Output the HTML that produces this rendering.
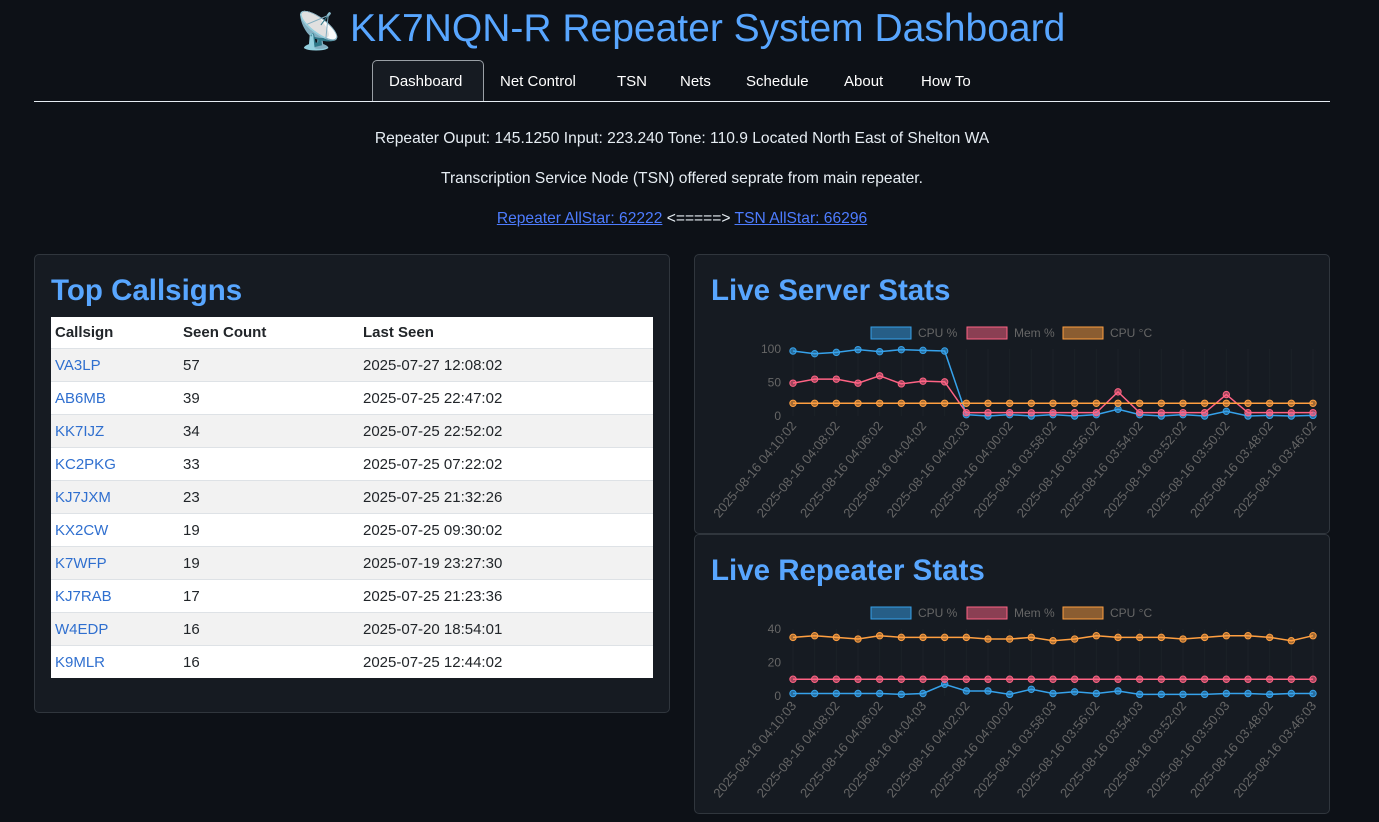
<!DOCTYPE html>
<html><head><meta charset="utf-8"><style>
body{margin:0;background:#0d1117;color:#e6edf3;font-family:"Liberation Sans",sans-serif;width:1379px;height:822px;overflow:hidden;position:relative}
.abs{position:absolute}
h1{position:absolute;left:350px;top:7px;margin:0;font-size:39px;font-weight:normal;color:#58a6ff;white-space:nowrap}
.nav a{position:absolute;top:73px;font-size:15px;color:#fff;text-decoration:none}
.card{position:absolute;background:#161b22;border:1px solid #30363d;border-radius:5px}
.card h2{margin:0;position:absolute;left:16px;top:19px;font-size:29.5px;color:#58a6ff;font-weight:bold}
table{position:absolute;left:16px;top:62px;width:602px;border-collapse:collapse;background:#fff;color:#212529;font-size:15px}
td,th{height:32px;padding:0 4px;text-align:left;border-top:1px solid #dee2e6}
th{border-top:none;height:31px}
tr:nth-child(even) td{background:#f2f2f2}
td a{color:#2f6fcf;text-decoration:none}
.c{font-size:15.6px;color:#e6edf3;text-align:center;position:absolute;left:0;width:1364px}
.c a{color:#4d7cff;text-decoration:underline}
</style></head><body>
<div class="abs" style="left:296px;top:10px;font-size:36px">📡</div>
<h1>KK7NQN-R Repeater System Dashboard</h1>
<div class="abs" style="left:372px;top:60px;width:110px;height:41px;border:1px solid #9aa0a6;border-bottom:none;border-radius:5px 5px 0 0;background:#161b22"></div>
<div class="nav"><a style="left:389px">Dashboard</a><a style="left:500px">Net Control</a><a style="left:617px">TSN</a><a style="left:680px">Nets</a><a style="left:746px">Schedule</a><a style="left:844px">About</a><a style="left:921px">How To</a></div>
<div class="abs" style="left:34px;top:101px;width:1296px;height:1px;background:#e6edf3"></div>
<div class="c" style="top:130px">Repeater Ouput: 145.1250 Input: 223.240 Tone: 110.9 Located North East of Shelton WA</div>
<div class="c" style="top:170px">Transcription Service Node (TSN) offered seprate from main repeater.</div>
<div class="c" style="top:210px"><a>Repeater AllStar: 62222</a> &lt;=====&gt; <a>TSN AllStar: 66296</a></div>
<div class="card" style="left:34px;top:254px;width:634px;height:457px"><h2>Top Callsigns</h2>
<table><tr><th>Callsign</th><th>Seen Count</th><th>Last Seen</th></tr>
<tr><td style="width:120px"><a>VA3LP</a></td><td style="width:172px">57</td><td>2025-07-27 12:08:02</td></tr>
<tr><td><a>AB6MB</a></td><td>39</td><td>2025-07-25 22:47:02</td></tr>
<tr><td><a>KK7IJZ</a></td><td>34</td><td>2025-07-25 22:52:02</td></tr>
<tr><td><a>KC2PKG</a></td><td>33</td><td>2025-07-25 07:22:02</td></tr>
<tr><td><a>KJ7JXM</a></td><td>23</td><td>2025-07-25 21:32:26</td></tr>
<tr><td><a>KX2CW</a></td><td>19</td><td>2025-07-25 09:30:02</td></tr>
<tr><td><a>K7WFP</a></td><td>19</td><td>2025-07-19 23:27:30</td></tr>
<tr><td><a>KJ7RAB</a></td><td>17</td><td>2025-07-25 21:23:36</td></tr>
<tr><td><a>W4EDP</a></td><td>16</td><td>2025-07-20 18:54:01</td></tr>
<tr><td><a>K9MLR</a></td><td>16</td><td>2025-07-25 12:44:02</td></tr>
</table></div>
<div class="card" style="left:694px;top:254px;width:634px;height:278px"><h2>Live Server Stats</h2></div>
<div class="card" style="left:694px;top:534px;width:634px;height:278px"><h2>Live Repeater Stats</h2></div>
<svg id="s" class="abs" style="left:0;top:0" width="1379" height="822" font-family="Liberation Sans,sans-serif"></svg>
<script>
var s=document.getElementById('s'),h='';
function chart(top,max,ticks,d,labs){
 var x0=793,x1=1313,y0=top+83,yt=top+16;
 var lg=[['CPU %','#36a2eb','rgba(54,162,235,0.5)',871],['Mem %','#ff6384','rgba(255,99,132,0.5)',967],['CPU °C','#ff9f40','rgba(255,159,64,0.5)',1063]];
 lg.forEach(function(l){h+='<rect x="'+l[3]+'" y="'+(top-6)+'" width="40" height="12" fill="'+l[2]+'" stroke="'+l[1]+'"/><text x="'+(l[3]+47)+'" y="'+(top+4)+'" font-size="12" fill="#666">'+l[0]+'</text>';});
 for(var i=0;i<25;i++){var x=x0+i*(x1-x0)/24;h+='<line x1="'+x+'" x2="'+x+'" y1="'+yt+'" y2="'+y0+'" stroke="#1c2128"/>';}
 ticks.forEach(function(t){var y=y0-(y0-yt)*t/max;h+='<text x="'+(x0-12)+'" y="'+(y+4)+'" text-anchor="end" font-size="12" fill="#666">'+t+'</text>';});
 var cols=['#36a2eb','#ff6384','#ff9f40'];
 d.forEach(function(v,k){var p=v.map(function(a,i){return [x0+i*(x1-x0)/24,y0-(y0-yt)*a/max];});
  h+='<polyline fill="none" stroke="'+cols[k]+'" stroke-width="1.5" points="'+p.map(function(q){return q.join(',')}).join(' ')+'"/>';
  p.forEach(function(q){h+='<circle cx="'+q[0]+'" cy="'+q[1]+'" r="3.2" fill="'+cols[k]+'" fill-opacity="0.6" stroke="'+cols[k]+'"/>';});});
 labs.forEach(function(l,i){var x=x0+i*2*(x1-x0)/24,y=y0+10;h+='<text transform="translate('+(x+4)+','+(y)+') rotate(-50)" text-anchor="end" font-size="13" fill="#666">2025-08-16 '+l+'</text>';});
}
chart(333,100,[0,50,100],[[97,93,95,99,96,99,98,97,2,0,2,0,2,0,2,10,2,0,2,0,7,0,1,0,1],[49,55,55,49,60,48,52,51,5,5,5,5,5,5,5,36,5,5,5,5,32,5,5,5,5],[19,19,19,19,19,19,19,19,19,19,19,19,19,19,19,19,19,19,19,19,19,19,19,19,19]],
['04:10:02','04:08:02','04:06:02','04:04:02','04:02:03','04:00:02','03:58:02','03:56:02','03:54:02','03:52:02','03:50:02','03:48:02','03:46:02']);
chart(613,40,[0,20,40],[[1.5,1.5,1.5,1.5,1.5,1,1.5,7,3,3,1,4,1.5,2.5,1.5,3,1,1,1,1,1.5,1.5,1,1.5,1.5],[10,10,10,10,10,10,10,10,10,10,10,10,10,10,10,10,10,10,10,10,10,10,10,10,10],[35,36,35,34,36,35,35,35,35,34,34,35,33,34,36,35,35,35,34,35,36,36,35,33,36]],
['04:10:03','04:08:02','04:06:02','04:04:03','04:02:02','04:00:02','03:58:03','03:56:02','03:54:03','03:52:02','03:50:03','03:48:02','03:46:03']);
s.innerHTML=h;
</script>
</body></html>
